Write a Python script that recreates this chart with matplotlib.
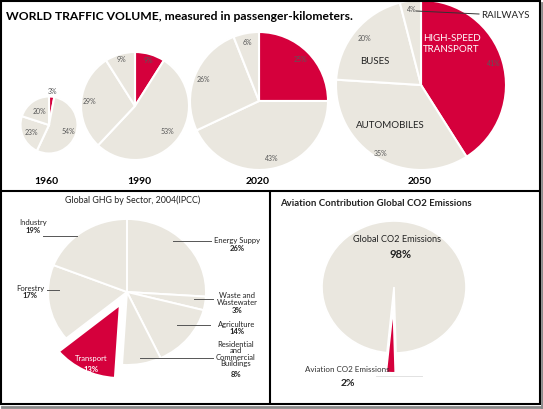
import numpy as np
import matplotlib.pyplot as plt

W, H = 543, 409
BEIGE = '#EAE7DF'
RED = '#D5003C'
plt.rcParams['font.family'] = ['Lato', 'DejaVu Sans']

# top: world traffic volume, clockwise from 12 o'clock
traffic_modes = ['HIGH-SPEED\nTRANSPORT', 'AUTOMOBILES', 'BUSES', 'RAILWAYS']
years = ['1960', '1990', '2020', '2050']
shares_1960 = [3, 54, 23, 20]
shares_1990 = [9, 53, 29, 9]
shares_2020 = [25, 43, 26, 6]
shares_2050 = [41, 35, 20, 4]

# bottom left: GHG by sector
ghg_sectors = ['Energy Suppy', 'Waste and\nWastewater', 'Agriculture',
               'Residential\nand\nCommercial\nBuildings', 'Transport',
               'Forestry', 'Industry']
ghg_shares = [26, 3, 14, 8, 13, 17, 19]

# bottom right: aviation share of CO2
co2_sources = ['Global CO2 Emissions', 'Aviation CO2 Emissions']
co2_shares = [98, 2]

fig = plt.figure(figsize=(W / 100, H / 100), dpi=100)
fig.patch.set_facecolor('white')


def pie_axes(cx, cy, rx, ry, pad=1.6):
    ax = fig.add_axes([(cx - rx * pad) / W, 1 - (cy + ry * pad) / H,
                       2 * rx * pad / W, 2 * ry * pad / H])
    return ax, pad


def draw_pie(cx, cy, rx, ry, values, colors, explode=None, start=90, lw=1.5):
    ax, pad = pie_axes(cx, cy, rx, ry)
    wedges, _ = ax.pie(values, colors=colors, startangle=start, counterclock=False,
                       explode=explode, radius=1,
                       wedgeprops=dict(edgecolor='white', linewidth=lw))
    ax.set_aspect('auto')
    ax.set_xlim(-pad, pad)
    ax.set_ylim(-pad, pad)
    ax.axis('off')
    return ax, wedges


def pct_labels(ax, wedges, values, dists, size=5, color='#595959'):
    for w, v, d in zip(wedges, values, dists):
        t = np.deg2rad((w.theta1 + w.theta2) / 2)
        ax.text(d * np.cos(t), d * np.sin(t), f'{v}%', ha='center', va='center',
                fontsize=size, color=color)


top_colors = [RED, BEIGE, BEIGE, BEIGE]
top_layout = [  # cx, cy, r, label distances
    (49, 125, 28.5, [1.18, 0.72, 0.66, 0.6]),
    (135, 106, 54, [0.88, 0.77, 0.85, 0.89]),
    (259, 101, 69, [0.85, 0.86, 0.86, 0.87]),
    (421, 85, 85, [0.89, 0.93, 0.86, 0.89]),
]
for vals, (cx, cy, r, dists) in zip([shares_1960, shares_1990, shares_2020, shares_2050],
                                    top_layout):
    ax, wedges = draw_pie(cx, cy, r, r, vals, top_colors)
    pct_labels(ax, wedges, vals, dists)

# GHG pie
ghg_colors = [RED if s == 'Transport' else BEIGE for s in ghg_sectors]
ghg_explode = [0.2 if s == 'Transport' else 0 for s in ghg_sectors]
ax_ghg, _ = draw_pie(127, 292, 79, 73, ghg_shares, ghg_colors, explode=ghg_explode, lw=1.4)

# CO2 pie
co2_colors = [BEIGE, RED]
ax_co2, _ = draw_pie(394, 287, 72, 66, co2_shares, co2_colors, explode=[0, 0.3],
                     start=264.4, lw=1.2)

# overlay in pixel coordinates for texts and frames
ov = fig.add_axes([0, 0, 1, 1])
ov.set_xlim(0, W)
ov.set_ylim(H, 0)
ov.axis('off')
ov.patch.set_alpha(0)

ov.text(6, 16, 'WORLD TRAFFIC VOLUME, measured in passenger-kilometers.',
        fontsize=8.7, fontweight='bold', ha='left', va='center', color='black')
for yr, x in zip(years, [46, 139, 258, 420]):
    ov.text(x, 181, yr, fontsize=7.5, fontweight='bold', ha='center', va='center')

# 2050 category labels
ov.text(423, 44, traffic_modes[0], fontsize=7, color='white', ha='left', va='center',
        linespacing=1.25)
ov.text(390, 125, traffic_modes[1], fontsize=7, color='#222222', ha='center', va='center')
ov.text(375, 61, traffic_modes[2], fontsize=7, color='#222222', ha='center', va='center')
ov.text(481, 15, traffic_modes[3], fontsize=7, color='#222222', ha='left', va='center')
ov.plot([416, 479], [11, 14], color='#333333', lw=0.7)

# GHG panel
ov.text(133, 200, 'Global GHG by Sector, 2004(IPCC)', fontsize=6.4, ha='center',
        va='center', color='#222222')
ghg_text = {  # label x, y of name; leader line x0, x1, y
    'Energy Suppy': (237, 241, 173, 211, 241),
    'Waste and\nWastewater': (237, 299, 194, 213, 299),
    'Agriculture': (237, 324, 177, 210, 325),
    'Residential\nand\nCommercial\nBuildings': (236, 354, 140, 213, 358),
    'Forestry': (30, 288, 47, 59, 290),
    'Industry': (33, 223, 43, 77, 236),
}
for name, val in zip(ghg_sectors, ghg_shares):
    if name == 'Transport':
        ov.text(91, 359, name, fontsize=5.5, color='white', ha='center', va='center')
        ov.text(91, 369, f'{val}%', fontsize=5.5, fontweight='bold', color='white',
                ha='center', va='center')
        continue
    tx, ty, x0, x1, ly = ghg_text[name]
    ov.text(tx, ty, name, fontsize=5.5, color='#222222', ha='center', va='center',
            linespacing=0.85)
    nlines = name.count('\n') + 1
    ov.text(tx, ty + 4.2 * nlines + 3.5, f'{val}%', fontsize=5.5, fontweight='bold',
            color='#222222', ha='center', va='center')
    ov.plot([x0, x1], [ly, ly], color='#555555', lw=0.7)

# CO2 panel
ov.text(280, 203, 'Aviation Contribution Global CO2 Emissions', fontsize=6.9,
        fontweight='bold', ha='left', va='center', color='#222222')
ov.text(397, 240, co2_sources[0], fontsize=6.6, ha='center', va='center', color='#222222')
ov.text(400, 254, f'{co2_shares[0]}%', fontsize=8, fontweight='bold', ha='center',
        va='center', color='#222222')
ov.text(347, 370, co2_sources[1], fontsize=5.8, ha='center', va='center', color='#333333')
ov.text(348, 383, f'{co2_shares[1]}%', fontsize=7.5, fontweight='bold', ha='center',
        va='center', color='#222222')
ov.plot([376, 422], [376, 376], color='#E2E2E2', lw=0.7)

# frames
k = dict(color='black', lw=1.5, solid_capstyle='butt')
ov.plot([0, 540], [1, 1], **k)
ov.plot([1, 1], [0, 404], **k)
ov.plot([539.5, 539.5], [0, 404.5], **k)
ov.plot([0, 540], [190.5, 190.5], **k)
ov.plot([270, 270], [190, 404], **k)
ov.plot([0, 540], [403.5, 403.5], **k)
ov.plot([2, 543], [406.5, 406.5], color='#8A8A8A', lw=2)
ov.plot([541.8, 541.8], [3, 408], color='#8A8A8A', lw=2)

fig.savefig('out.png', dpi=100)
